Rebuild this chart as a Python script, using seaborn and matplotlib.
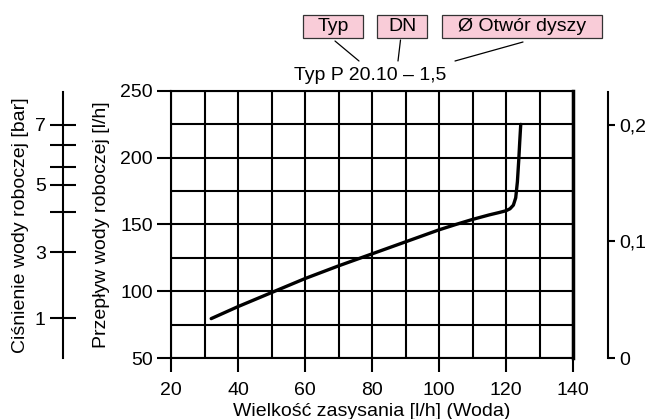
import matplotlib
matplotlib.use("Agg")
import matplotlib.pyplot as plt
import seaborn as sns
import pandas as pd
from matplotlib.patches import Rectangle
from matplotlib.lines import Line2D

# ---- data ----
suction = [32, 40, 50, 60, 70, 80, 90, 100, 105, 110, 115, 118, 120, 121.2, 122.2, 122.9, 123.4, 123.8, 124.1, 124.4]
flow = [79.5, 88.5, 99, 109.5, 119, 128, 137, 146, 150, 153.8, 157.2, 159, 160.3, 161.8, 164.5, 170, 182, 198, 212, 225]

x_ticks = [20, 40, 60, 80, 100, 120, 140]
y_ticks = [50, 100, 150, 200, 250]
pressure_tick_flow = [80, 129.4, 160.1, 180.3, 193.8, 210.3, 225.3]
pressure_tick_labels = ["1", "3", "", "5", "", "", "7"]
right_ticks = [0, 0.1, 0.2]
right_tick_labels = ["0", "0,1", "0,2"]

title_text = "Typ P 20.10 – 1,5"
box_labels = ["Typ", "DN", "Ø Otwór dyszy"]

sns.set_theme(style="white")
plt.rcParams["font.family"] = ["Liberation Sans", "DejaVu Sans"]
FS = 14

W, H = 652, 419
fig = plt.figure(figsize=(W / 100, H / 100), dpi=100)


def fx(px):
    return px / W


def fy(py):
    return 1 - py / H


ax = fig.add_axes([fx(171), fy(358), (573 - 171) / W, (358 - 91) / H])
df = pd.DataFrame({"x": suction, "y": flow})
sns.lineplot(data=df, x="x", y="y", ax=ax, color="black", linewidth=2.4, sort=False, zorder=5)

ax.set_xlim(20, 140)
ax.set_ylim(50, 250)
ax.set_xticks(x_ticks)
ax.set_xticks(list(range(20, 141, 10)), minor=True)
ax.set_yticks(y_ticks)
ax.set_yticks(list(range(50, 251, 25)), minor=True)
ax.grid(True, which="both", color="black", linewidth=1.5)
ax.tick_params(axis="both", which="major", direction="out", length=10, width=1.5,
               color="black", labelsize=FS, labelcolor="black", left=True, bottom=True)
ax.tick_params(axis="x", which="major", pad=7)
ax.tick_params(axis="y", which="major", pad=3)
ax.tick_params(which="minor", length=0)
for s in ax.spines.values():
    s.set_color("black")
    s.set_linewidth(1.5)
ax.spines["right"].set_linewidth(2.5)
ax.set_xlabel("Wielkość zasysania [l/h] (Woda)", fontsize=FS, color="black", labelpad=3)
ax.set_ylabel("Przepływ wody roboczej [l/h]", fontsize=FS, color="black", va="center")
ax.yaxis.set_label_coords((102 - 171) / 402, 0.5)

# pressure axis (left)
axp = fig.add_axes([fx(63), fy(358), 0.0001, (358 - 92) / H])
axp.set_ylim(50, 250)
axp.set_xticks([])
axp.set_yticks(pressure_tick_flow)
axp.set_yticklabels(pressure_tick_labels)
axp.patch.set_alpha(0)
for k in ["top", "right", "bottom"]:
    axp.spines[k].set_visible(False)
axp.spines["left"].set_color("black")
axp.spines["left"].set_linewidth(1.5)
axp.tick_params(axis="y", direction="inout", length=19, width=1.5, color="black",
                labelsize=FS, labelcolor="black", pad=3, left=True)
fig.text(fx(21), fy(225), "Ciśnienie wody roboczej [bar]", rotation=90,
         ha="center", va="center", fontsize=FS, color="black")

# right axis
axr = fig.add_axes([fx(608), fy(358), 0.0001, (358 - 92) / H])
axr.set_ylim(0, 0.2283)
axr.set_xticks([])
axr.yaxis.tick_right()
axr.set_yticks(right_ticks)
axr.set_yticklabels(right_tick_labels)
axr.patch.set_alpha(0)
for k in ["top", "left", "bottom"]:
    axr.spines[k].set_visible(False)
axr.spines["right"].set_color("black")
axr.spines["right"].set_linewidth(1.5)
axr.tick_params(axis="y", direction="out", length=5, width=1.5, color="black",
                labelsize=FS, labelcolor="black", pad=3, right=True)

# header annotation
fig.text(fx(370.5), fy(80), title_text, ha="center", va="baseline", fontsize=FS, color="black")
boxes = [(303, 363), (377, 427), (442, 602)]
for (x0, x1), lab in zip(boxes, box_labels):
    fig.patches.append(Rectangle((fx(x0), fy(38)), (x1 - x0) / W, 23 / H,
                                 transform=fig.transFigure, facecolor="#f9ccd8",
                                 edgecolor="#333333", linewidth=0.9))
    fig.text(fx((x0 + x1) / 2), fy(26.5), lab, ha="center", va="center", fontsize=FS, color="black")
connectors = [((335, 41), (359, 61)), ((400.5, 40), (398, 61)), ((523, 42), (455, 61))]
for (a, b) in connectors:
    fig.lines.append(Line2D([fx(a[0]), fx(b[0])], [fy(a[1]), fy(b[1])],
                            transform=fig.transFigure, color="black", linewidth=0.9))

fig.savefig("out.png", dpi=100)
